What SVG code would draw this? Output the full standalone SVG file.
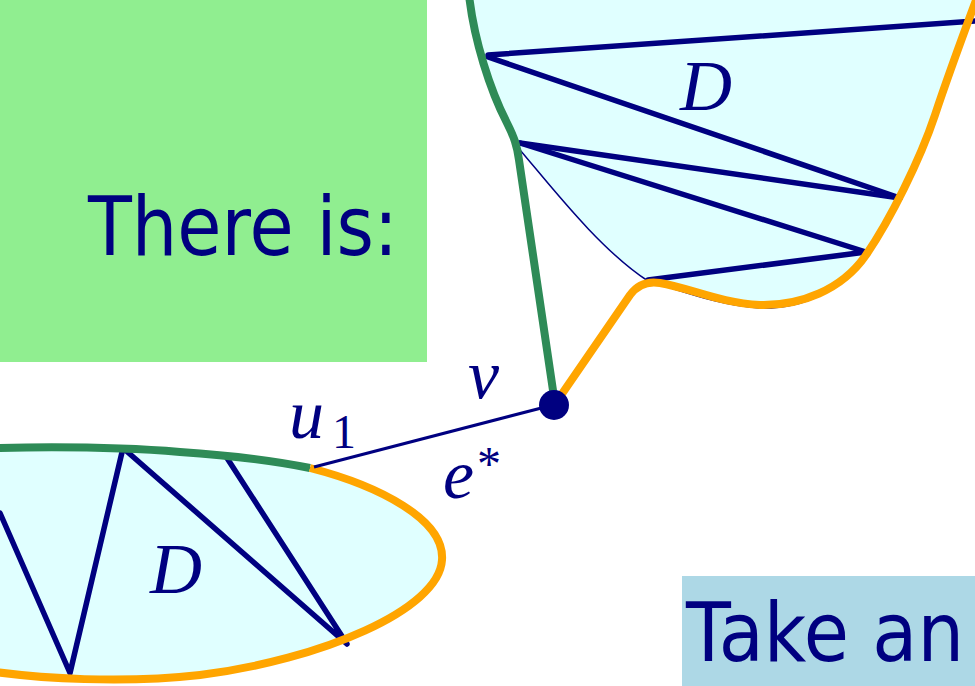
<svg xmlns="http://www.w3.org/2000/svg" width="975" height="686" viewBox="0 0 975 686">
<style>
.region{fill:#e0ffff;stroke:#000080;stroke-width:1.5}
.green{fill:none;stroke:#2e8b57;stroke-width:8;stroke-linejoin:round}
.orange{fill:none;stroke:#ffa500;stroke-width:8;stroke-linejoin:round}
.chord{fill:none;stroke:#000080;stroke-width:5.5;stroke-linecap:round;stroke-linejoin:round}
.edge{fill:none;stroke:#000080;stroke-width:3}
.math{font-family:"Liberation Serif","DejaVu Serif",serif;font-style:italic;fill:#000080}
.up{font-family:"Liberation Serif","DejaVu Serif",serif;font-style:normal;fill:#000080}
.title{font-family:"DejaVu Sans","Liberation Sans",sans-serif;fill:#000080}
</style>
<rect width="975" height="686" fill="#ffffff"/>
<g id="box-there">
<rect x="0" y="0" width="427" height="362" fill="#90ee90"/>
<text class="title" x="88" y="255" font-size="82" textLength="310" lengthAdjust="spacingAndGlyphs">There is:</text>
</g>
<g id="box-take">
<rect x="682" y="576" width="293" height="110" fill="#add8e6"/>
<text class="title" x="686" y="661" font-size="82" textLength="278" lengthAdjust="spacingAndGlyphs">Take an</text>
</g>
<g id="region-top">
<path class="region" d="M469,-5 C474,40 490,90 508,125 C515,137 518,143 520,150 C550,185 600,250 648,281 C680,290 720,306 760,308 C805,309 842,290 866,255 C890,220 920,160 935,115 C950,70 965,30 978,-5 Z"/>
<path class="chord" d="M488,55 L976,21"/>
<path class="chord" d="M488,57 L900,198"/>
<path class="chord" d="M520,143 L900,198"/>
<path class="chord" d="M520,143 L866,252"/>
<path class="chord" d="M866,252 L648,280"/>
<path class="green" d="M469,-5 C474,40 490,90 507,123 C514,137 517,145 519,160 L555,404"/>
<path class="orange" d="M555,404 L630,295 C638,284 648,281 660,283 C690,288 720,303 760,305 C800,306 842,290 866,255 C890,220 920,160 935,115 C950,70 965,30 978,-5"/>
<text class="math" x="680" y="110" font-size="72">D</text>
</g>
<g id="region-bottom">
<path class="region" d="M-5,448 C40,447 120,447 180,452 C240,456 280,462 310,468 C380,486 445,520 442,560 C439,610 320,660 200,675 C120,684 40,678 -5,672 Z"/>
<path class="chord" d="M0,513 L70,673 L123,448 L347,644 L227,458"/>
<path class="green" d="M-5,448 C40,447 120,447 180,452 C240,456 280,462 310,468"/>
<path class="orange" d="M310,468 C380,486 445,520 442,560 C439,610 320,660 200,675 C120,684 40,678 -5,672"/>
<text class="math" x="150" y="593" font-size="72">D</text>
</g>
<g id="connectors">
<line class="edge" x1="553" y1="405" x2="314" y2="467"/>
</g>
<g id="node-v">
<circle cx="554" cy="405" r="15" fill="#000080"/>
<text class="math" x="468" y="398" font-size="70">v</text>
</g>
<g id="labels">
<text class="math" x="289" y="438" font-size="70">u</text>
<text class="up" x="332" y="448" font-size="48">1</text>
<text class="math" x="443" y="498" font-size="70">e</text>
<text class="up" x="477" y="480" font-size="48">*</text>
</g>
</svg>
